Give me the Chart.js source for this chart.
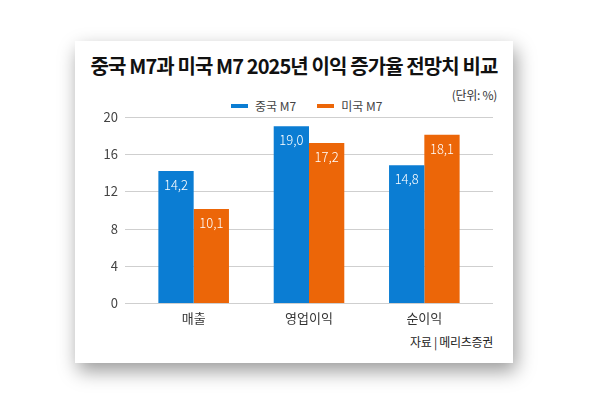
<!DOCTYPE html>
<html><head><meta charset="utf-8">
<script src="https://cdn.jsdelivr.net/npm/chart.js@4"></script>
<style>
html,body{margin:0;padding:0;background:#fff;width:600px;height:398px;overflow:hidden;font-family:"Noto Sans CJK KR","Noto Sans",sans-serif;}
#card{position:absolute;left:75px;top:41px;width:438px;height:322px;background:#fff;box-shadow:3px 8px 18px rgba(0,0,0,0.4);}
#title{position:absolute;left:75px;width:438px;top:53px;text-align:center;font-weight:700;font-size:20px;letter-spacing:-0.9px;color:#111;line-height:26px;white-space:nowrap;}
#unit{position:absolute;right:103px;top:86px;font-size:12px;color:#333;line-height:18px;letter-spacing:-0.3px;}
#source{position:absolute;right:107px;top:333px;font-size:12px;color:#222;line-height:18px;letter-spacing:-0.3px;}
#legend{position:absolute;left:231px;top:97px;display:flex;align-items:center;font-size:12px;color:#444;line-height:18px;}
#legend .item{display:flex;align-items:center;margin-right:21px;}
#legend .sw{width:17px;height:4px;margin-right:7px;}
canvas{position:absolute;left:0;top:0;}
</style></head>
<body>
<div id="card"></div>
<div id="title">중국 M7과 미국 M7 2025년 이익 증가율 전망치 비교</div>
<div id="unit">(단위: %)</div>
<div id="legend"></div>
<div id="source">자료 | 메리츠증권</div>
<canvas id="c" width="600" height="398"></canvas>
<script>
const categories = ["매출", "영업이익", "순이익"];
const seriesNames = ["중국 M7", "미국 M7"];
const chinaM7 = [14.2, 19.0, 14.8];
const usM7 = [10.1, 17.2, 18.1];
const yTicks = [0, 4, 8, 12, 16, 20];
const colors = ["#0b7dd3", "#ec6608"];

const legend = document.getElementById('legend');
seriesNames.forEach((n, i) => {
  const it = document.createElement('div'); it.className = 'item';
  const sw = document.createElement('span'); sw.className = 'sw'; sw.style.background = colors[i];
  const t = document.createElement('span'); t.textContent = n;
  it.appendChild(sw); it.appendChild(t); legend.appendChild(it);
});

const gridPlugin = {
  id: 'extGrid',
  beforeDatasetsDraw(chart) {
    const ctx = chart.ctx, y = chart.scales.y, a = chart.chartArea;
    ctx.save();
    ctx.strokeStyle = '#cfcfcf'; ctx.lineWidth = 1;
    yTicks.forEach(v => {
      const py = Math.round(y.getPixelForValue(v)) + 0.5;
      ctx.beginPath(); ctx.moveTo(a.left - 11, py); ctx.lineTo(a.right + 11, py); ctx.stroke();
    });
    ctx.restore();
  }
};
const labelPlugin = {
  id: 'barLabels',
  afterDatasetsDraw(chart) {
    const ctx = chart.ctx;
    ctx.save();
    ctx.fillStyle = '#fff';
    ctx.font = '300 13px "Noto Sans CJK KR", "Noto Sans", sans-serif';
    ctx.textAlign = 'center'; ctx.textBaseline = 'middle';
    chart.data.datasets.forEach((ds, di) => {
      chart.getDatasetMeta(di).data.forEach((bar, i) => {
        ctx.fillText(ds.data[i].toFixed(1).replace('.', ','), bar.x, bar.y + 14);
      });
    });
    ctx.restore();
  }
};

new Chart(document.getElementById('c'), {
  type: 'bar',
  data: {
    labels: categories,
    datasets: [
      { label: seriesNames[0], data: chinaM7, backgroundColor: colors[0] },
      { label: seriesNames[1], data: usM7, backgroundColor: colors[1] }
    ]
  },
  options: {
    responsive: false,
    animation: false,
    devicePixelRatio: 1,
    layout: { padding: { top: 117, right: 118, left: 0, bottom: 0 } },
    categoryPercentage: 0.612,
    barPercentage: 1.0,
    plugins: { legend: { display: false }, tooltip: { enabled: false } },
    scales: {
      x: {
        grid: { display: false, drawTicks: false },
        border: { display: false },
        ticks: { color: '#333', padding: 7, font: { family: '"Noto Sans CJK KR", sans-serif', size: 13 } },
        afterFit(s) { s.height = 95; }
      },
      y: {
        min: 0, max: 20,
        afterBuildTicks(s) { s.ticks = yTicks.map(v => ({ value: v })); },
        grid: { display: false, drawTicks: false },
        border: { display: false },
        ticks: { color: '#444', padding: 18, font: { family: '"Noto Sans CJK KR", sans-serif', size: 13 } },
        afterFit(s) { s.width = 136; }
      }
    }
  },
  plugins: [gridPlugin, labelPlugin]
});
</script>
</body></html>
